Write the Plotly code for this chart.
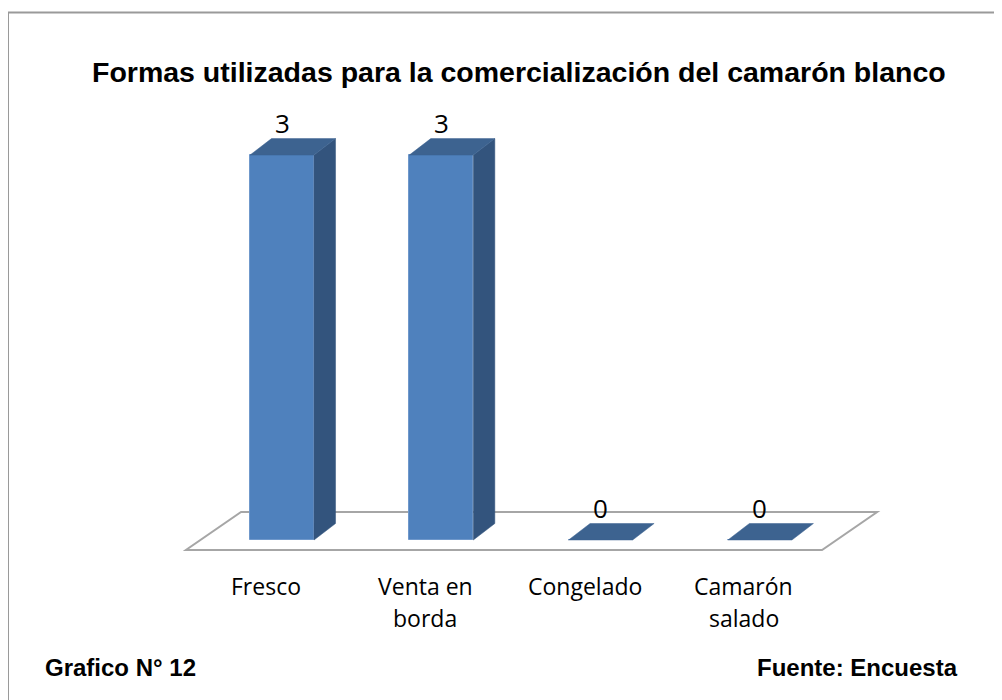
import plotly.graph_objects as go

# ---- data ----
categories = ["Fresco", "Venta en\nborda", "Congelado", "Camarón\nsalado"]
values = [3, 3, 0, 0]
title_text = "Formas utilizadas para la comercialización del camarón blanco"
footer_left = "Grafico N° 12"
footer_right = "Fuente: Encuesta"

# ---- style / geometry (pseudo 3D) ----
W, H = 1002, 700
OFF = 8            # page body margin compensation (px)
bar_w = 0.402      # bar width in category units
dx, dy = 0.135, 0.1286   # depth offset (x units, value units)
front_col = "#4F81BD"
top_col = "#3D6390"
side_col = "#33547D"
floor_col = "#A6A6A6"

xs = list(range(len(categories)))

fig = go.Figure()

# front faces
fig.add_trace(go.Bar(
    x=xs, y=values, width=bar_w,
    marker=dict(color=front_col, line=dict(color="#6F98CB", width=1)),
    hoverinfo="skip", showlegend=False,
))

# side & top faces
for x, v in zip(xs, values):
    xl, xr = x - bar_w / 2, x + bar_w / 2
    if v > 0:
        fig.add_trace(go.Scatter(
            x=[xr, xr + dx, xr + dx, xr, xr], y=[0, dy, v + dy, v, 0],
            fill="toself", fillcolor=side_col, mode="lines",
            line=dict(color=side_col, width=0.5), hoverinfo="skip", showlegend=False))
    fig.add_trace(go.Scatter(
        x=[xl, xr, xr + dx, xl + dx, xl], y=[v, v, v + dy, v + dy, v],
        fill="toself", fillcolor=top_col, mode="lines",
        line=dict(color=top_col, width=0.5), hoverinfo="skip", showlegend=False))

# value labels
for x, v in zip(xs, values):
    fig.add_annotation(x=x, y=v, xref="x", yref="y", text=str(v), showarrow=False,
                       yanchor="bottom", yshift=12,
                       font=dict(family="Open Sans", size=26, color="#000000"))

# category labels (one annotation per line)
for x, c in zip(xs, categories):
    for k, line in enumerate(c.split("\n")):
        fig.add_annotation(x=x - 0.1, y=0, xref="x", yref="y", text=line, showarrow=False,
                           yanchor="middle", yshift=-46 - 32 * k,
                           font=dict(family="Open Sans", size=23, color="#000000"))

# floor (parallelogram)
n = len(categories)
fl_front, fl_back = -0.078, 0.218
fl_l, fl_r = -0.603, (n - 1) + 0.39
fl_shift = 0.346
fig.add_shape(type="path", xref="x", yref="y", layer="below",
              path=(f"M {fl_l},{fl_front} L {fl_r},{fl_front} "
                    f"L {fl_r + fl_shift},{fl_back} L {fl_l + fl_shift},{fl_back} Z"),
              line=dict(color=floor_col, width=2), fillcolor="rgba(0,0,0,0)")

# outer border
fig.add_shape(type="rect", xref="paper", yref="paper",
              x0=(7 - OFF + 1) / W, x1=1.05, y0=-0.05, y1=1 - (12.5 - OFF) / H,
              line=dict(color="#9A9A9A", width=2))

# title and footers
fig.add_annotation(x=(519 - OFF) / W, y=1 - (72 - OFF) / H, xref="paper", yref="paper",
                   text=f"<b>{title_text}</b>",
                   showarrow=False, xanchor="center", yanchor="middle",
                   font=dict(family="Liberation Sans, Arial", size=28.5, color="#000000"))
fig.add_annotation(x=(43 - OFF) / W, y=1 - (667 - OFF) / H, xref="paper", yref="paper",
                   text=f"<b>{footer_left}</b>",
                   showarrow=False, xanchor="left", yanchor="middle",
                   font=dict(family="Liberation Sans, Arial", size=24, color="#000000"))
fig.add_annotation(x=(960 - OFF) / W, y=1 - (667 - OFF) / H, xref="paper", yref="paper",
                   text=f"<b>{footer_right}</b>",
                   showarrow=False, xanchor="right", yanchor="middle",
                   font=dict(family="Liberation Sans, Arial", size=24, color="#000000"))

# axes mapping: x=0 -> 282px, 159.3 px/unit ; y=0 -> 540px, 128.3 px/unit (page coords)
px_x, x0px = 159.3, 282 - OFF
px_y, y0px = 128.3, 540 - OFF
xr0 = -x0px / px_x
yr0 = -(H - y0px) / px_y
fig.update_xaxes(range=[xr0, xr0 + W / px_x], visible=False, fixedrange=True)
fig.update_yaxes(range=[yr0, yr0 + H / px_y], visible=False, fixedrange=True)

fig.update_layout(
    width=W, height=H, margin=dict(l=0, r=0, t=0, b=0),
    paper_bgcolor="white", plot_bgcolor="white",
    bargap=0, showlegend=False,
)

fig.write_html("out.html")
